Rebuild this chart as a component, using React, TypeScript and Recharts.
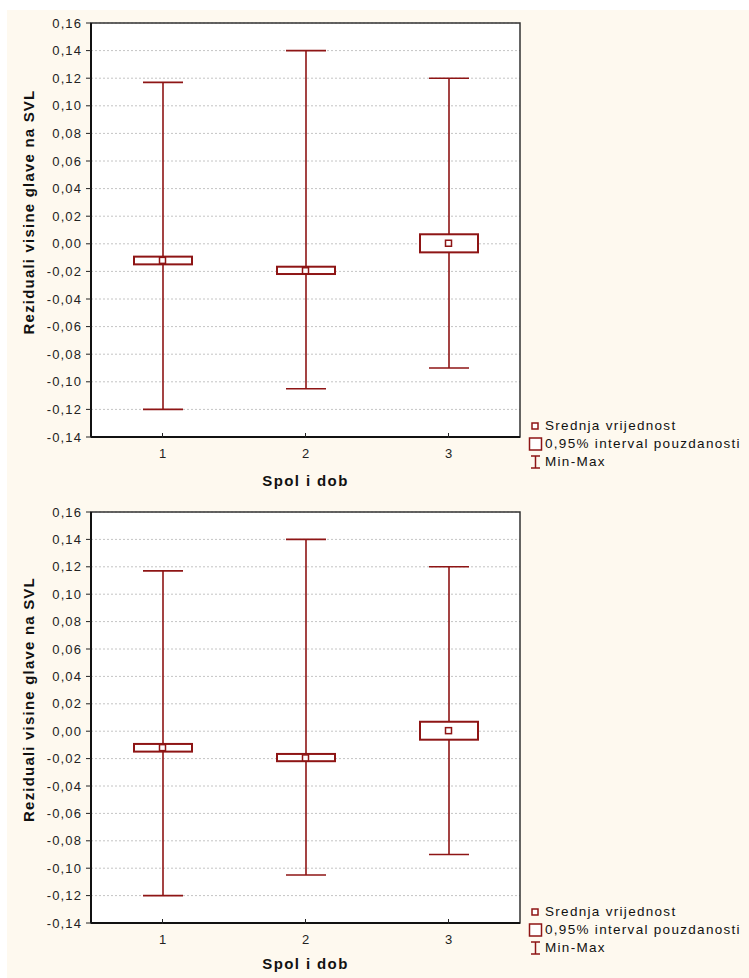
import {
	ComposedChart,
	Bar,
	Scatter,
	XAxis,
	YAxis,
	CartesianGrid,
	ReferenceArea,
} from "recharts";

const groups = ["1", "2", "3"];
const means = [-0.012, -0.0195, 0.0004];
const ciLow = [-0.0149, -0.0219, -0.0062];
const ciHigh = [-0.0093, -0.0166, 0.0069];
const minVals = [-0.12, -0.105, -0.09];
const maxVals = [0.117, 0.14, 0.12];
const yTicks = [
	-0.14, -0.12, -0.1, -0.08, -0.06, -0.04, -0.02, 0, 0.02, 0.04, 0.06, 0.08,
	0.1, 0.12, 0.14, 0.16,
];
const legendItems = [
	"Srednja vrijednost",
	"0,95% interval pouzdanosti",
	"Min-Max",
];

const data = groups.map((g, i) => ({
	group: g,
	mean: means[i],
	ci: [ciLow[i], ciHigh[i]],
	range: [minVals[i], maxVals[i]],
}));

const RED = "#8e1515";
const FONT = "'Liberation Sans', Arial, sans-serif";

const fmt = (v: number) => v.toFixed(2).replace(".", ",");

const Whisker = (props: any) => {
	const { x, y, width, height } = props;
	const top = Math.min(y, y + height);
	const bot = Math.max(y, y + height);
	const cx = x + width / 2;
	return (
		<g stroke={RED} strokeWidth={1.6}>
			<line x1={cx} x2={cx} y1={top} y2={bot} />
			<line x1={x} x2={x + width} y1={top} y2={top} />
			<line x1={x} x2={x + width} y1={bot} y2={bot} />
		</g>
	);
};

const CiBox = (props: any) => {
	const { x, y, width, height } = props;
	const top = Math.min(y, y + height);
	const h = Math.abs(height);
	return (
		<rect
			x={x}
			y={top}
			width={width}
			height={h}
			fill="#fff"
			stroke={RED}
			strokeWidth={2}
		/>
	);
};

const MeanMark = (props: any) => {
	const { cx, cy } = props;
	return (
		<rect
			x={cx - 3}
			y={cy - 3}
			width={6}
			height={6}
			fill="#fff"
			stroke={RED}
			strokeWidth={1.5}
		/>
	);
};

const XTick = (props: any) => {
	const { x, y, payload } = props;
	return (
		<g>
			<line x1={x} x2={x} y1={y - 12} y2={y - 7} stroke="#222" />
			<text
				x={x}
				y={y + 8}
				textAnchor="middle"
				dominantBaseline="central"
				fontSize={13}
				fontFamily={FONT}
				fill="#222"
			>
				{payload.value}
			</text>
		</g>
	);
};

type PanelProps = { height: number; plotH: number; labelGap: number };

function Panel({ height, plotH, labelGap }: PanelProps) {
	const top = 13;
	return (
		<div style={{ position: "relative", width: 742, height }}>
			<ComposedChart
				width={742}
				height={height}
				data={data}
				margin={{ top, right: 229, left: 0, bottom: 0 }}
			>
				<CartesianGrid
					vertical={false}
					stroke="#c4c4c4"
					strokeDasharray="2 2"
					fill="#fff"
				/>
				<XAxis
					xAxisId="main"
					dataKey="group"
					height={height - top - plotH}
					axisLine={{ stroke: "#111", strokeWidth: 2 }}
					tickLine={false}
					tick={<XTick />}
					label={{
						content: (p: any) => {
							const vb = p.viewBox;
							return (
								<text
									x={vb.x + vb.width / 2}
									y={vb.y + labelGap}
									textAnchor="middle"
									dominantBaseline="central"
									fontSize={15}
									fontWeight="bold"
									letterSpacing={1.4}
									fontFamily={FONT}
									fill="#111"
								>
									Spol i dob
								</text>
							);
						},
					}}
				/>
				<XAxis
					xAxisId="ci"
					dataKey="group"
					orientation="top"
					height={0}
					hide
				/>
				<YAxis
					domain={[-0.14, 0.16]}
					ticks={yTicks}
					allowDataOverflow
					width={84}
					interval={0}
					tickFormatter={fmt}
					axisLine={{ stroke: "#111", strokeWidth: 2 }}
					tickLine={{ stroke: "#222" }}
					tickSize={5}
					tickMargin={4}
					tick={{
						fontSize: 13,
						fill: "#222",
						fontFamily: FONT,
						letterSpacing: 1.1,
					}}
					label={{
						content: (p: any) => {
							const vb = p.viewBox;
							const cx = 21;
							const cy = vb.y + vb.height / 2 - 18;
							return (
								<text
									x={cx}
									y={cy}
									transform={`rotate(-90, ${cx}, ${cy})`}
									textAnchor="middle"
									dominantBaseline="central"
									fontSize={15}
									fontWeight="bold"
									letterSpacing={1.2}
									fontFamily={FONT}
									fill="#111"
								>
									Reziduali visine glave na SVL
								</text>
							);
						},
					}}
				/>
				<Bar
					xAxisId="main"
					dataKey="range"
					barSize={40}
					shape={<Whisker />}
					isAnimationActive={false}
				/>
				<Bar
					xAxisId="ci"
					dataKey="ci"
					barSize={58}
					shape={<CiBox />}
					isAnimationActive={false}
				/>
				<Scatter
					xAxisId="main"
					dataKey="mean"
					shape={<MeanMark />}
					isAnimationActive={false}
				/>
				<ReferenceArea
					xAxisId="main"
					y1={-0.14}
					y2={0.16}
					fill="none"
					stroke="#333"
					strokeWidth={1.5}
				/>
			</ComposedChart>
			<div
				style={{
					position: "absolute",
					left: 521,
					top: top + plotH - 20,
					fontFamily: FONT,
					fontSize: 13.5,
					letterSpacing: 1.3,
					color: "#111",
					lineHeight: "18px",
				}}
			>
				{legendItems.map((t, i) => (
					<div key={t} style={{ display: "flex", alignItems: "center" }}>
						<svg width={16} height={14} style={{ marginRight: 1 }}>
							{i === 0 && (
								<rect
									x={4}
									y={4}
									width={6}
									height={6}
									fill="#fff"
									stroke={RED}
									strokeWidth={1.5}
								/>
							)}
							{i === 1 && (
								<rect
									x={1.5}
									y={1}
									width={12}
									height={12}
									fill="#fff"
									stroke={RED}
									strokeWidth={1.5}
								/>
							)}
							{i === 2 && (
								<g stroke={RED} strokeWidth={1.5}>
									<line x1={7.5} x2={7.5} y1={1} y2={13} />
									<line x1={3} x2={12} y1={1} y2={1} />
									<line x1={3} x2={12} y1={13} y2={13} />
								</g>
							)}
						</svg>
						<span>{t}</span>
					</div>
				))}
			</div>
		</div>
	);
}

export default function App() {
	return (
		<div
			style={{
				position: "absolute",
				left: 7,
				top: 10,
				width: 742,
				height: 968,
				background: "#fef9ef",
			}}
		>
			<Panel height={489} plotH={414} labelGap={43} />
			<Panel height={478} plotH={411} labelGap={40} />
		</div>
	);
}
